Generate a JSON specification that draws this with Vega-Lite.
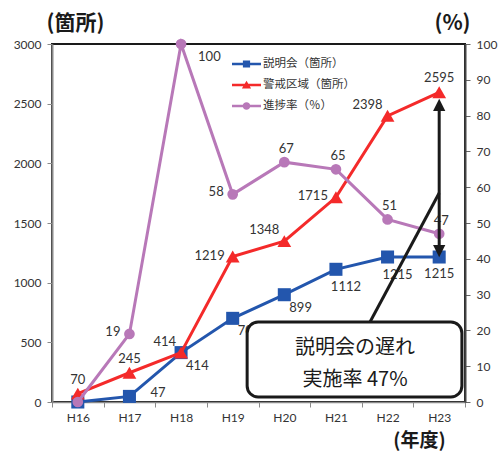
{
  "$schema": "https://vega.github.io/schema/vega-lite/v6.json",
  "width": 413,
  "height": 358,
  "autosize": {"type": "none"},
  "padding": {"left": 52, "top": 44, "right": 35, "bottom": 49},
  "background": "white",
  "config": {
    "view": {"stroke": "#1a1a1a", "strokeWidth": 2},
    "axis": {
      "labelFont": "Lato",
      "labelFontSize": 12,
      "labelColor": "#333333",
      "domainColor": "#8a8a8a",
      "domainWidth": 2,
      "tickColor": "#8a8a8a",
      "tickSize": 5,
      "labelPadding": 6,
      "grid": false,
      "titleFont": "Noto Sans CJK JP",
      "titleFontSize": 21,
      "titleFontWeight": "bold",
      "titleColor": "#1a1a1a",
      "titleAngle": 0,
      "titleAlign": "center",
      "titleBaseline": "middle"
    }
  },
  "datasets": {
    "counts": [
      {"series": "説明会（箇所）", "year": "H16", "value": 0},
      {"series": "説明会（箇所）", "year": "H17", "value": 47},
      {"series": "説明会（箇所）", "year": "H18", "value": 414},
      {"series": "説明会（箇所）", "year": "H19", "value": 701},
      {"series": "説明会（箇所）", "year": "H20", "value": 899},
      {"series": "説明会（箇所）", "year": "H21", "value": 1112},
      {"series": "説明会（箇所）", "year": "H22", "value": 1215},
      {"series": "説明会（箇所）", "year": "H23", "value": 1215},
      {"series": "警戒区域（箇所）", "year": "H16", "value": 70},
      {"series": "警戒区域（箇所）", "year": "H17", "value": 245},
      {"series": "警戒区域（箇所）", "year": "H18", "value": 414},
      {"series": "警戒区域（箇所）", "year": "H19", "value": 1219},
      {"series": "警戒区域（箇所）", "year": "H20", "value": 1348},
      {"series": "警戒区域（箇所）", "year": "H21", "value": 1715},
      {"series": "警戒区域（箇所）", "year": "H22", "value": 2398},
      {"series": "警戒区域（箇所）", "year": "H23", "value": 2595}
    ],
    "rate": [
      {"series": "進捗率（％）", "year": "H16", "value": 0},
      {"series": "進捗率（％）", "year": "H17", "value": 19},
      {"series": "進捗率（％）", "year": "H18", "value": 100},
      {"series": "進捗率（％）", "year": "H19", "value": 58},
      {"series": "進捗率（％）", "year": "H20", "value": 67},
      {"series": "進捗率（％）", "year": "H21", "value": 65},
      {"series": "進捗率（％）", "year": "H22", "value": 51},
      {"series": "進捗率（％）", "year": "H23", "value": 47}
    ],
    "notes": [
      {"kind": "leader", "x": 6.16, "y": 670, "x2": 7.5, "y2": 1751},
      {"kind": "shaft", "x": 7.5, "y": 2460, "x2": 7.5, "y2": 1300},
      {"kind": "head-up", "x": 7.5, "y": 2489},
      {"kind": "head-down", "x": 7.5, "y": 1265},
      {"kind": "box", "x": 3.78, "y": 42, "x2": 7.94, "y2": 670},
      {"kind": "text", "x": 5.87, "y": 452, "text": "説明会の遅れ"},
      {"kind": "text", "x": 5.87, "y": 184, "text": "実施率 47%"}
    ]
  },
  "layer": [
    {
      "data": {"name": "counts"},
      "encoding": {
        "x": {
          "field": "year",
          "type": "ordinal",
          "scale": {"type": "band", "paddingInner": 0, "paddingOuter": 0},
          "axis": {
            "title": "(年度)",
            "titleFontSize": 19,
            "titleX": 367,
            "titleY": 48.5,
            "titleAlign": "center",
            "titleBaseline": "bottom",
            "labelAngle": 0,
            "labelPadding": 5,
            "tickBand": "extent",
            "domainWidth": 1.5
          }
        },
        "y": {
          "field": "value",
          "type": "quantitative",
          "scale": {"domain": [0, 3000], "nice": false},
          "axis": {
            "values": [0, 500, 1000, 1500, 2000, 2500, 3000],
            "format": "d",
            "title": "(箇所)",
            "titleX": 23,
            "titleY": -21,
            "titleAlign": "center"
          }
        }
      },
      "layer": [
        {
          "transform": [{"filter": "datum.series === '説明会（箇所）'"}],
          "mark": {"type": "line", "strokeWidth": 3},
          "encoding": {
            "color": {
              "field": "series",
              "type": "nominal",
              "scale": {
                "domain": ["説明会（箇所）", "警戒区域（箇所）", "進捗率（％）"],
                "range": ["#2356ad", "#f42a2a", "#b878b8"]
              },
              "legend": {
                "orient": "none",
                "legendX": 184.5,
                "legendY": 10,
                "title": null,
                "padding": 0,
                "symbolSize": 400,
                "labelOffset": 6.5,
                "rowPadding": 5,
                "labelFont": "Noto Sans CJK JP",
                "labelFontSize": 11.5,
                "labelColor": "#333333",
                "encode": {
                  "symbols": {
                    "update": {
                      "shape": {"signal": "datum.value === '説明会（箇所）' ? 'M-1.45,-0.12H1.45V0.12H-1.45Z M-0.36,-0.36H0.36V0.36H-0.36Z' : datum.value === '警戒区域（箇所）' ? 'M-1.45,-0.12H1.45V0.12H-1.45Z M0,-0.42L0.46,0.34H-0.46Z' : 'M-1.45,-0.12H1.45V0.12H-1.45Z M-0.38,0A0.38,0.38 0 1,1 0.38,0A0.38,0.38 0 1,1 -0.38,0Z'"},
                      "fill": {"scale": "color", "field": "value"},
                      "stroke": {"value": "transparent"},
                      "strokeWidth": {"value": 0},
                      "opacity": {"value": 1}
                    }
                  }
                }
              }
            }
          }
        },
        {
          "transform": [{"filter": "datum.series === '説明会（箇所）'"}],
          "mark": {"type": "point", "shape": "square", "filled": true, "size": 170, "opacity": 1},
          "encoding": {"color": {"field": "series", "type": "nominal"}}
        },
        {
          "transform": [{"filter": "datum.series === '警戒区域（箇所）'"}],
          "mark": {"type": "line", "strokeWidth": 3},
          "encoding": {"color": {"field": "series", "type": "nominal"}}
        },
        {
          "transform": [{"filter": "datum.series === '警戒区域（箇所）'"}],
          "mark": {"type": "point", "shape": "triangle-up", "filled": true, "size": 190, "opacity": 1},
          "encoding": {"color": {"field": "series", "type": "nominal"}}
        },
        {
          "transform": [{"filter": "datum.series === '警戒区域（箇所）' && indexof(['H16','H17','H23'], datum.year) >= 0"}],
          "mark": {"type": "text", "font": "Lato", "fontSize": 13, "color": "#333333", "baseline": "middle", "align": "center", "dy": -14},
          "encoding": {"text": {"field": "value", "type": "quantitative"}}
        },
        {
          "transform": [{"filter": "datum.series === '警戒区域（箇所）' && indexof(['H18','H20','H22'], datum.year) >= 0"}],
          "mark": {"type": "text", "font": "Lato", "fontSize": 13, "color": "#333333", "baseline": "middle", "align": "right", "dx": -5, "dy": -11},
          "encoding": {"text": {"field": "value", "type": "quantitative"}}
        },
        {
          "transform": [{"filter": "datum.series === '警戒区域（箇所）' && indexof(['H19','H21'], datum.year) >= 0"}],
          "mark": {"type": "text", "font": "Lato", "fontSize": 13, "color": "#333333", "baseline": "middle", "align": "right", "dx": -8, "dy": -1},
          "encoding": {"text": {"field": "value", "type": "quantitative"}}
        },
        {
          "transform": [{"filter": "datum.series === '説明会（箇所）' && datum.year === 'H17'"}],
          "mark": {"type": "text", "font": "Lato", "fontSize": 13, "color": "#333333", "baseline": "middle", "align": "left", "dx": 21, "dy": -3},
          "encoding": {"text": {"field": "value", "type": "quantitative"}}
        },
        {
          "transform": [{"filter": "datum.series === '説明会（箇所）' && indexof(['H18','H19','H20'], datum.year) >= 0"}],
          "mark": {"type": "text", "font": "Lato", "fontSize": 13, "color": "#333333", "baseline": "middle", "align": "left", "dx": 5, "dy": 13},
          "encoding": {"text": {"field": "value", "type": "quantitative"}}
        },
        {
          "transform": [{"filter": "datum.series === '説明会（箇所）' && indexof(['H21','H22'], datum.year) >= 0"}],
          "mark": {"type": "text", "font": "Lato", "fontSize": 13, "color": "#333333", "baseline": "middle", "align": "center", "dx": 10, "dy": 18},
          "encoding": {"text": {"field": "value", "type": "quantitative"}}
        },
        {
          "transform": [{"filter": "datum.series === '説明会（箇所）' && datum.year === 'H23'"}],
          "mark": {"type": "text", "font": "Lato", "fontSize": 13, "color": "#333333", "baseline": "middle", "align": "center", "dy": 17},
          "encoding": {"text": {"field": "value", "type": "quantitative"}}
        }
      ]
    },
    {
      "data": {"name": "rate"},
      "encoding": {
        "x": {
          "field": "year",
          "type": "ordinal",
          "scale": {"type": "band", "paddingInner": 0, "paddingOuter": 0},
          "axis": null
        },
        "y": {
          "field": "value",
          "type": "quantitative",
          "scale": {"domain": [0, 100], "nice": false},
          "axis": {
            "orient": "right",
            "values": [0, 10, 20, 30, 40, 50, 60, 70, 80, 90, 100],
            "domainColor": "#444444",
            "tickColor": "#666666",
            "title": "(%)",
            "titleX": -13,
            "titleY": -21,
            "titleAlign": "center"
          }
        }
      },
      "layer": [
        {
          "mark": {"type": "line", "strokeWidth": 3},
          "encoding": {"color": {"field": "series", "type": "nominal"}}
        },
        {
          "mark": {"type": "point", "shape": "circle", "filled": true, "size": 115, "opacity": 1},
          "encoding": {"color": {"field": "series", "type": "nominal"}}
        },
        {
          "transform": [{"filter": "indexof(['H20','H21','H22','H23'], datum.year) >= 0"}],
          "mark": {"type": "text", "font": "Lato", "fontSize": 13, "color": "#333333", "baseline": "middle", "align": "center", "dx": 2, "dy": -13},
          "encoding": {"text": {"field": "value", "type": "quantitative"}}
        },
        {
          "transform": [{"filter": "indexof(['H17','H19'], datum.year) >= 0"}],
          "mark": {"type": "text", "font": "Lato", "fontSize": 13, "color": "#333333", "baseline": "middle", "align": "right", "dx": -9, "dy": -2},
          "encoding": {"text": {"field": "value", "type": "quantitative"}}
        },
        {
          "transform": [{"filter": "datum.year === 'H18'"}],
          "mark": {"type": "text", "font": "Lato", "fontSize": 13, "color": "#333333", "baseline": "middle", "align": "left", "dx": 17, "dy": 13},
          "encoding": {"text": {"field": "value", "type": "quantitative"}}
        }
      ]
    },
    {
      "data": {"name": "notes"},
      "encoding": {
        "x": {"field": "x", "type": "quantitative", "scale": {"domain": [0, 8], "nice": false, "zero": false}, "axis": null},
        "y": {"field": "y", "type": "quantitative", "scale": {"domain": [0, 3000], "nice": false}, "axis": null}
      },
      "layer": [
        {
          "transform": [{"filter": "datum.kind === 'leader' || datum.kind === 'shaft'"}],
          "mark": {"type": "rule", "color": "#1a1a1a", "strokeWidth": 3},
          "encoding": {"x2": {"field": "x2"}, "y2": {"field": "y2"}}
        },
        {
          "transform": [{"filter": "datum.kind === 'head-up'"}],
          "mark": {"type": "point", "shape": "M0,-1L1,1L-1,1Z", "filled": true, "size": 150, "color": "#1a1a1a", "opacity": 1}
        },
        {
          "transform": [{"filter": "datum.kind === 'head-down'"}],
          "mark": {"type": "point", "shape": "M0,1L1,-1L-1,-1Z", "filled": true, "size": 150, "color": "#1a1a1a", "opacity": 1}
        },
        {
          "transform": [{"filter": "datum.kind === 'box'"}],
          "mark": {"type": "rect", "fill": "white", "stroke": "#1a1a1a", "strokeWidth": 3, "cornerRadius": 11},
          "encoding": {"x2": {"field": "x2"}, "y2": {"field": "y2"}}
        },
        {
          "transform": [{"filter": "datum.kind === 'text'"}],
          "mark": {"type": "text", "font": "Noto Sans CJK JP", "fontSize": 20, "color": "#1a1a1a", "baseline": "middle", "align": "center"},
          "encoding": {"text": {"field": "text", "type": "nominal"}}
        }
      ]
    }
  ],
  "resolve": {"scale": {"x": "independent", "y": "independent"}}
}
